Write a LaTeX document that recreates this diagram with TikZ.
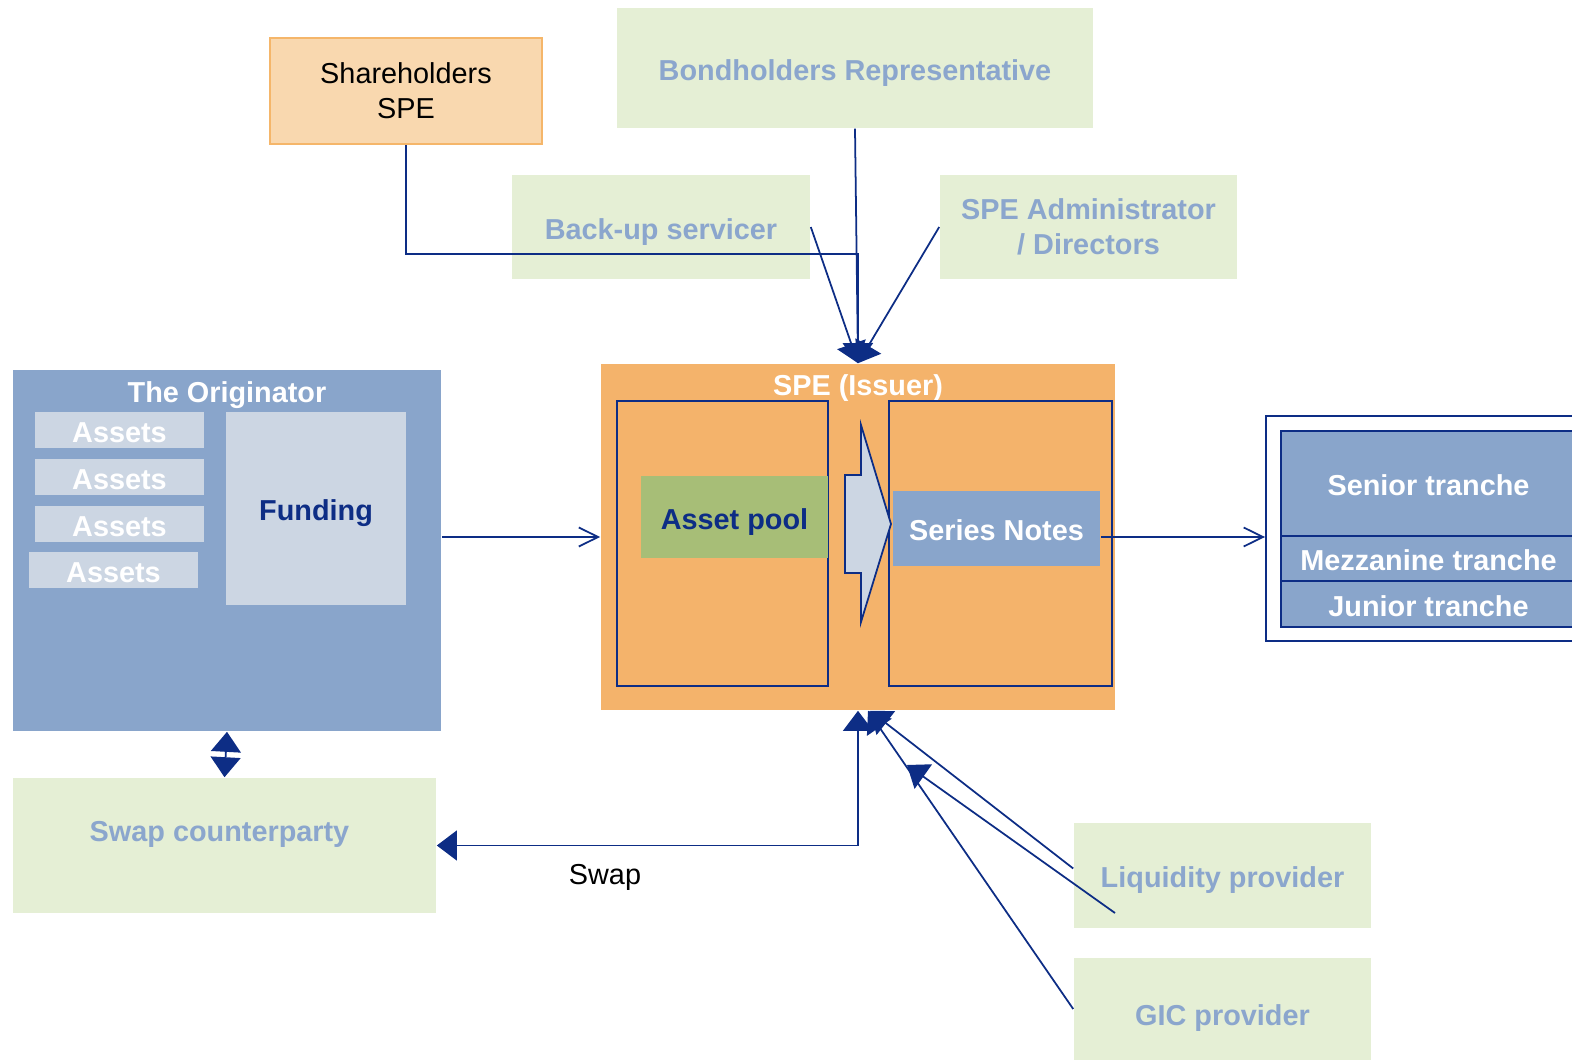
\documentclass[tikz,border=0pt]{standalone}
\usepackage{fontspec}
\setmainfont{Liberation Sans}
\usetikzlibrary{arrows.meta}

\definecolor{navy}{HTML}{0D2D85}
\definecolor{softgreen}{HTML}{E5EFD5}
\definecolor{paleblue}{HTML}{8BA6CD}
\definecolor{origblue}{HTML}{89A5CB}
\definecolor{assetgrey}{HTML}{CCD6E3}
\definecolor{speorange}{HTML}{F4B36B}
\definecolor{shfill}{HTML}{F9D8AF}
\definecolor{shline}{HTML}{F5B66A}
\definecolor{poolgreen}{HTML}{A7BE77}

\newcommand{\lbl}{\fontsize{8.2}{10}\selectfont}

\tikzstyle{onerow} = [text height=7pt, text depth=0pt]
\tikzstyle{party} = [rectangle, fill=softgreen, text=paleblue, font=\lbl\bfseries, align=center, inner sep=0pt]
\tikzstyle{holder} = [rectangle, fill=shfill, draw=shline, line width=0.6pt, font=\lbl, align=center, inner sep=0pt]
\tikzstyle{bluebox} = [rectangle, fill=origblue, inner sep=0pt]
\tikzstyle{assetbox} = [rectangle, fill=assetgrey, text=white, font=\lbl\bfseries, onerow, inner sep=0pt, minimum width=1.69cm, minimum height=0.36cm]
\tikzstyle{hdr} = [text=white, font=\lbl\bfseries, inner sep=0pt]
\tikzstyle{frame} = [rectangle, draw=navy, line width=0.5pt, inner sep=0pt]
\tikzstyle{tranche} = [rectangle, fill=origblue, draw=navy, line width=0.5pt, text=white, font=\lbl\bfseries, onerow, inner sep=0pt, minimum width=2.95cm]
\tikzstyle{arrow} = [draw=navy, line width=0.5pt, -{Triangle[length=5.7pt, width=8.5pt]}]
\tikzstyle{twoway} = [draw=navy, line width=0.5pt, {Triangle[length=5.7pt, width=8.5pt]}-{Triangle[length=5.7pt, width=8.5pt]}]
\tikzstyle{flow} = [draw=navy, line width=0.5pt, -{Straight Barb[length=5.5pt, width=5.4pt]}]

\begin{document}
\begin{tikzpicture}[x=0.01cm, y=-0.01cm]
\useasboundingbox (0,0) rectangle (1572,1064);

% parties around the issuer
\node (sh) [holder, minimum width=2.72cm, minimum height=1.06cm] at (406,91) {Shareholders\\SPE};
\node (bond) [party, onerow, minimum width=4.76cm, minimum height=1.20cm] at (855,68) {Bondholders Representative};
\node (bus) [party, onerow, minimum width=2.98cm, minimum height=1.04cm] at (661,227) {Back-up servicer};
\node (adm) [party, minimum width=2.97cm, minimum height=1.04cm] at (1088.5,227) {SPE Administrator\\/ Directors};
\node (swp) [party, text height=7pt, text depth=9pt, minimum width=4.23cm, minimum height=1.35cm] at (224.5,845.5) {Swap counterparty\hspace{0.1cm}};
\node (liq) [party, onerow, minimum width=2.97cm, minimum height=1.05cm] at (1222.5,875.5) {Liquidity provider};
\node (gic) [party, text height=9.3pt, text depth=0pt, minimum width=2.97cm, minimum height=1.02cm] at (1222.5,1009) {GIC provider};

% the originator
\node (orig) [bluebox, minimum width=4.28cm, minimum height=3.61cm] at (227,550.5) {};
\node (origt) [hdr] at (227,395) {The Originator};
\node (as1) [assetbox] at (119.5,430) {Assets};
\node (as2) [assetbox] at (119.5,477) {Assets};
\node (as3) [assetbox] at (119.5,524) {Assets};
\node (as4) [assetbox] at (113.5,570) {Assets};
\node (fund) [rectangle, fill=assetgrey, text=navy, font=\lbl\bfseries, onerow, inner sep=0pt, minimum width=1.80cm, minimum height=1.93cm] at (316,508.5) {Funding};

% the issuer
\node (spe) [rectangle, fill=speorange, inner sep=0pt, minimum width=5.14cm, minimum height=3.46cm] at (858,537) {};
\node (spet) [hdr] at (858,388) {SPE (Issuer)};
\node (spel) [frame, minimum width=2.11cm, minimum height=2.85cm] at (722.5,543.5) {};
\node (sper) [frame, minimum width=2.23cm, minimum height=2.85cm] at (1000.5,543.5) {};
\node (pool) [rectangle, fill=poolgreen, text=navy, font=\lbl\bfseries, onerow, inner sep=0pt, minimum width=1.87cm, minimum height=0.82cm] at (734.5,517) {Asset pool};
\node (notes) [rectangle, fill=origblue, text=white, font=\lbl\bfseries, onerow, inner sep=0pt, minimum width=2.07cm, minimum height=0.75cm] at (996.5,528.5) {Series Notes};
\draw [draw=navy, line width=0.5pt, fill=assetgrey] (845,475) -- (861,475) -- (861,425) -- (891,524) -- (861,622) -- (861,573) -- (845,573) -- cycle;

% the notes
\node (trb) [frame, minimum width=3.34cm, minimum height=2.25cm] at (1433,528.5) {};
\node (sen) [tranche, minimum height=1.05cm] at (1428.5,483.5) {Senior tranche};
\node (mez) [tranche, minimum height=0.45cm] at (1428.5,558.5) {Mezzanine tranche};
\node (jun) [tranche, minimum height=0.46cm] at (1428.5,604) {Junior tranche};

% connectors
\coordinate (shbend) at (858,254);
\coordinate (liqa) at (1115,913);
\coordinate (liqb) at (907,765);

\draw [arrow] (sh.south) |- (shbend) -- (spe.north);
\draw [arrow] (bond.south) -- (spe.north);
\draw [arrow] (bus.east) -- (spe.north);
\draw [arrow] (adm.west) -- (spe.north);

\draw [flow] (orig.east |- spe.west) -- (spe.west);
\draw [flow] (notes.east |- spe.west) -- (trb.west |- spe.west);

\draw [twoway] (orig.south) -- (swp.north);
\draw [twoway] (spe.south) |- (swp.east);
\node (swaplbl) [font=\lbl, inner sep=0pt] at (605,877) {Swap};

\draw [arrow] ([yshift=0.07cm]liq.west) -- ([xshift=0.12cm]spe.south);
\draw [arrow] (liqa) -- (liqb);
\draw [arrow] (gic.west) -- ([xshift=0.1cm]spe.south);

\end{tikzpicture}
\end{document}
